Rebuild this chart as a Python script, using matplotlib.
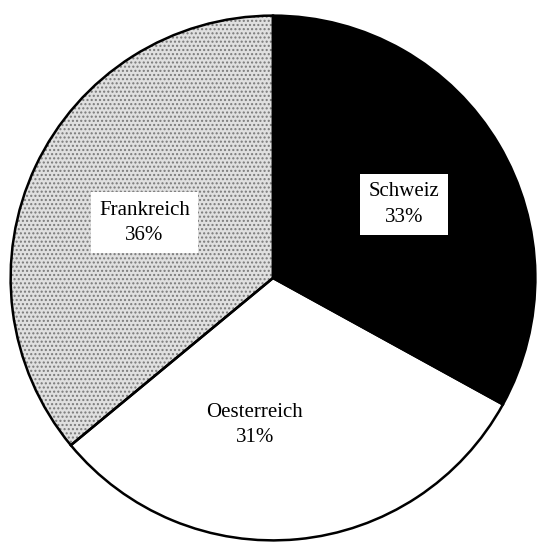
import matplotlib.pyplot as plt

# Anteile der Länder
laender = ["Schweiz", "Oesterreich", "Frankreich"]
anteile = [33, 31, 36]
farben = ["black", "white", "#e0e0e0"]
muster = ["", "", "...."]

fig = plt.figure(figsize=(5.39, 5.44), dpi=100)
# Achse so legen, dass der Kreis fast das ganze Bild füllt
ax = fig.add_axes([8 / 539, 1 / 544, 530 / 539, 530 / 544])

# Flächen mit Muster (ohne Randlinien)
flaechen, _ = ax.pie(anteile, colors=farben, startangle=90, counterclock=False,
                     radius=1, wedgeprops=dict(linewidth=0))
for w, h in zip(flaechen, muster):
    if h:
        w.set_hatch(h)
        w.set_edgecolor("#7a7a7a")

# Randlinien darüber
ax.pie(anteile, colors=["none"] * 3, startangle=90, counterclock=False, radius=1,
       wedgeprops=dict(linewidth=1.8, edgecolor="black", fill=False))

ax.set_xlim(-1.01, 1.01)
ax.set_ylim(-1.01, 1.01)
ax.set_aspect("equal")
ax.axis("off")

schrift = dict(family=["Liberation Serif", "DejaVu Serif"], size=15,
               ha="center", va="center", linespacing=1.45)
box = dict(facecolor="white", edgecolor="none", pad=6)

ax.text(0.50, 0.28, f"{laender[0]}\n{anteile[0]}%", bbox=box, **schrift)
ax.text(-0.07, -0.56, f"{laender[1]}\n{anteile[1]}%", **schrift)
ax.text(-0.49, 0.21, f"{laender[2]}\n{anteile[2]}%", bbox=box, **schrift)

fig.savefig("out.png", dpi=100, facecolor="white")
